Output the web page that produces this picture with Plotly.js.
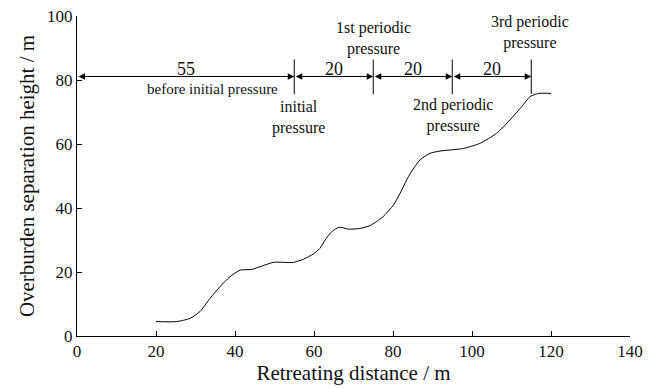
<!DOCTYPE html>
<html>
<head>
<meta charset="utf-8">
<script src="https://cdn.plot.ly/plotly-3.0.1.min.js"></script>
<style>html,body{margin:0;padding:0;background:#fff;}#chart{width:659px;height:388px;}</style>
</head>
<body>
<div id="chart"></div>
<script>
// Curve data
const distance = [20, 25.2, 28.6, 31.1, 33.7, 36.2, 38.7, 41.3, 44.2, 49.7, 54.8, 57.3, 59.8, 61.5, 62.8, 64.5, 66.4, 68.7, 71.6, 74.2, 77.5, 80.1, 81.8, 83.9, 86.8, 89.4, 91.9, 97.8, 102, 106.2, 109.6, 112.6, 114.7, 116.8, 120];
const height = [4.5, 4.5, 5.5, 7.6, 11.8, 15.4, 18.5, 20.6, 20.8, 23.0, 23.0, 24.0, 25.6, 27.4, 30, 32.6, 34.0, 33.4, 33.6, 34.5, 37.3, 40.9, 44.6, 49.8, 55, 57.1, 57.8, 58.6, 60.2, 63.3, 67.5, 71.7, 74.8, 75.8, 75.8];

// Dimension segments
const segStart = [0, 55, 75, 95];
const segEnd = [55, 75, 95, 115];
const segLabels = ["55", "20", "20", "20"];
const dimY = 81.1;
const segLabelY = 83.4;
const markerX = [55, 75, 95, 115];
const markerLow = 75.6, markerHigh = 86.4;

// Sub-label
const subLabel = "before initial pressure";
const subLabelX = 34.3, subLabelY = 77.3;

// Event labels
const eventX = [56, 75, 95.3, 114.7];
const eventText = ["initial<br>pressure", "1st periodic<br>pressure", "2nd periodic<br>pressure", "3rd periodic<br>pressure"];
const eventY = [68.3, 93.0, 68.9, 94.8];

const xTicks = [0, 20, 40, 60, 80, 100, 120, 140];
const yTicks = [0, 20, 40, 60, 80, 100];

const font = "Liberation Serif";

const trace = {
  x: distance, y: height, type: "scatter", mode: "lines",
  line: {color: "#000", width: 1, shape: "spline", smoothing: 0.6},
  hoverinfo: "skip", showlegend: false
};

const annotations = [];
const shapes = [];
for (let i = 0; i < segStart.length; i++) {
  annotations.push({
    x: segEnd[i], y: dimY, ax: segStart[i], ay: dimY,
    xref: "x", yref: "y", axref: "x", ayref: "y",
    showarrow: true, arrowhead: 2, startarrowhead: 2, arrowside: "end+start",
    arrowsize: 1.3, startarrowsize: 1.3, arrowwidth: 1, arrowcolor: "#000", text: ""
  });
  annotations.push({
    x: (segStart[i] + segEnd[i]) / 2, y: segLabelY, xref: "x", yref: "y",
    text: segLabels[i], showarrow: false, yanchor: "middle",
    font: {family: font, size: 18, color: "#111"}
  });
}
annotations.push({
  x: subLabelX, y: subLabelY, xref: "x", yref: "y", text: subLabel,
  showarrow: false, yanchor: "middle", font: {family: font, size: 15, color: "#111"}
});
for (let i = 0; i < eventX.length; i++) {
  annotations.push({
    x: eventX[i], y: eventY[i], xref: "x", yref: "y", text: eventText[i],
    showarrow: false, yanchor: "middle", font: {family: font, size: 16, color: "#111"}
  });
}
for (let i = 0; i < markerX.length; i++) {
  shapes.push({type: "line", xref: "x", yref: "y", x0: markerX[i], x1: markerX[i],
    y0: markerLow, y1: markerHigh, line: {color: "#000", width: 1}});
}

const layout = {
  width: 659, height: 388,
  margin: {l: 77, r: 29, t: 16, b: 52},
  paper_bgcolor: "#fff", plot_bgcolor: "#fff",
  font: {family: font, color: "#111"},
  xaxis: {
    range: [0, 140], tickvals: xTicks, ticks: "inside", ticklen: 5, tickcolor: "#000",
    showline: true, linecolor: "#000", linewidth: 1, showgrid: false, zeroline: false,
    tickfont: {family: font, size: 17, color: "#111"},
    title: {text: "Retreating distance / m", font: {family: font, size: 21, color: "#111"}, standoff: 4}
  },
  yaxis: {
    range: [0, 100], tickvals: yTicks, ticks: "inside", ticklen: 5, tickcolor: "#000",
    showline: true, linecolor: "#000", linewidth: 1, showgrid: false, zeroline: false,
    tickfont: {family: font, size: 17, color: "#111"},
    title: {text: "Overburden separation height / m", font: {family: font, size: 21, color: "#111"}, standoff: 6}
  },
  annotations: annotations, shapes: shapes, showlegend: false
};

Plotly.newPlot("chart", [trace], layout, {displayModeBar: false, staticPlot: true});
</script>
</body>
</html>
